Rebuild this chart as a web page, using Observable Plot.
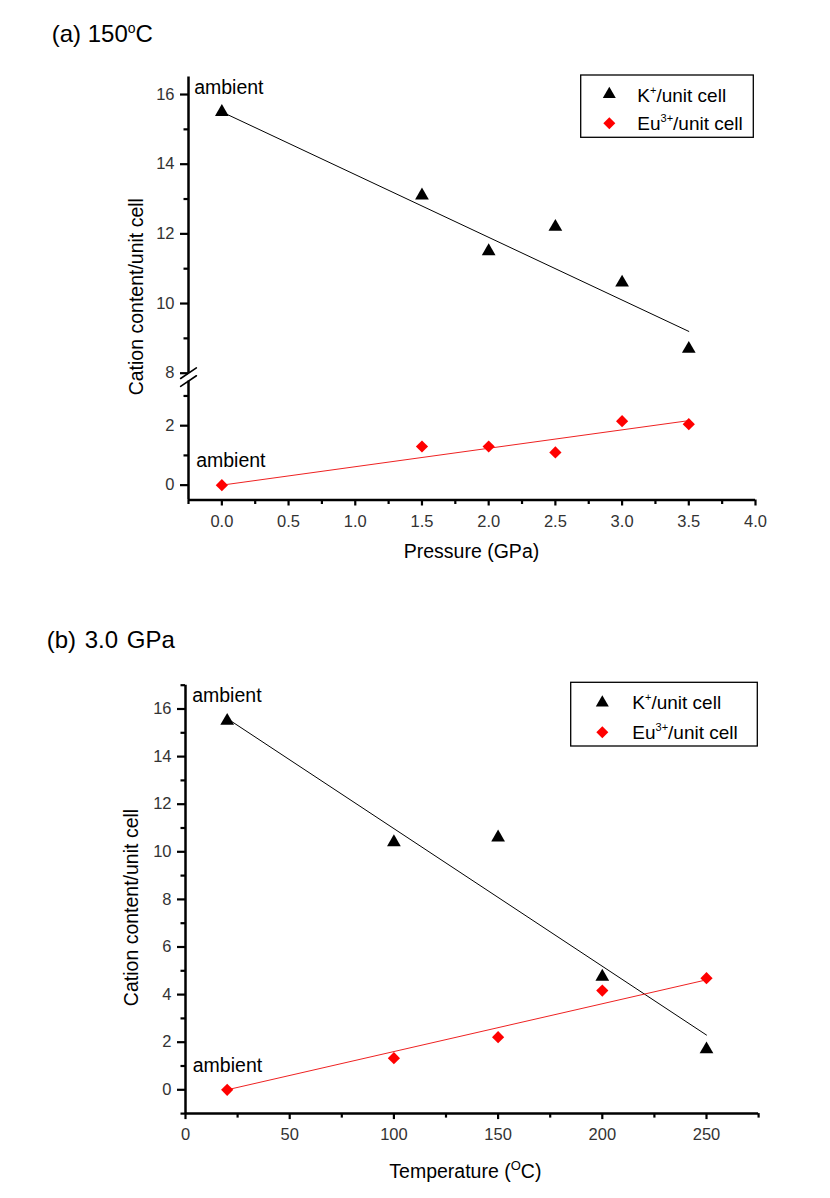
<!DOCTYPE html>
<html><head><meta charset="utf-8">
<script src="https://cdn.jsdelivr.net/npm/d3@7"></script>
<script src="https://cdn.jsdelivr.net/npm/@observablehq/plot@0.6"></script>
<style>
body{margin:0;background:#fff;font-family:"Liberation Sans",Arial,sans-serif;}
#page{position:relative;width:830px;height:1198px;overflow:hidden;background:#fff;}
#page > svg{position:absolute;left:0;}
#overlay{position:absolute;left:0;top:0;pointer-events:none;}
</style></head><body><div id="page">
<svg id="overlay" width="830" height="1198" font-family="Liberation Sans, Arial, sans-serif">
  <!-- titles -->
  <text x="51.7" y="41.7" font-size="24">(a) 150<tspan dy="-9" font-size="14">o</tspan><tspan dy="9">C</tspan></text>
  <text x="46.7" y="648.3" font-size="24" word-spacing="2">(b) 3.0 GPa</text>
  <!-- axis titles -->
  <text x="471.5" y="558.3" font-size="19.5" text-anchor="middle">Pressure (GPa)</text>
  <text transform="translate(143.3,296.7) rotate(-90)" font-size="19.5" text-anchor="middle">Cation content/unit cell</text>
  <text x="389.3" y="1178.3" font-size="19.5">Temperature (<tspan dy="-8" font-size="13">O</tspan><tspan dy="8">C)</tspan></text>
  <text transform="translate(138.3,907.5) rotate(-90)" font-size="19.5" text-anchor="middle">Cation content/unit cell</text>
  <!-- legend (a) -->
  <rect x="580.7" y="75" width="172.6" height="62.3" fill="none" stroke="black" stroke-width="1.3"/>
  <path d="M609.3,86.8 L615.8,98.1 L602.8,98.1 Z" fill="black"/>
  <path d="M609.3,117.3 L615.3,123.3 L609.3,129.3 L603.3,123.3 Z" fill="#ff0000"/>
  <text x="637.3" y="101.5" font-size="19">K<tspan dy="-8" font-size="11">+</tspan><tspan dy="8">/unit cell</tspan></text>
  <text x="637.3" y="130" font-size="19">Eu<tspan dy="-8" font-size="11">3+</tspan><tspan dy="8">/unit cell</tspan></text>
  <!-- legend (b) -->
  <rect x="570.7" y="682.3" width="186.6" height="63.7" fill="none" stroke="black" stroke-width="1.3"/>
  <path d="M602.3,695.2 L608.8,706.5 L595.8,706.5 Z" fill="black"/>
  <path d="M602.3,726.3 L608.3,732.3 L602.3,738.3 L596.3,732.3 Z" fill="#ff0000"/>
  <text x="632.3" y="709" font-size="19">K<tspan dy="-8" font-size="11">+</tspan><tspan dy="8">/unit cell</tspan></text>
  <text x="632.3" y="739" font-size="19">Eu<tspan dy="-8" font-size="11">3+</tspan><tspan dy="8">/unit cell</tspan></text>
</svg>
</div>
<script>
// ---------- Panel (a): 150 °C, varying pressure ----------
const pressure = [0, 1.5, 2.0, 2.5, 3.0, 3.5];
const kPerCellA = [15.5, 13.1, 11.5, 12.2, 10.6, 8.7];
const euPerCellA = [0, 1.3, 1.3, 1.1, 2.15, 2.05];
const kFitPressure = [0, 3.5];
const kFitA = [15.5, 9.2];
const euFitPressure = [0, 3.5];
const euFitA = [0, 2.17];
const xTicksA = [0, 0.5, 1.0, 1.5, 2.0, 2.5, 3.0, 3.5, 4.0];
const xMinorA = [-0.25, 0.25, 0.75, 1.25, 1.75, 2.25, 2.75, 3.25, 3.75];
const xDomainA = [-0.25, 4.0];
// broken y axis: upper part 8…16.5, lower part −0.5…3.5
const yUpperA = [8, 16.5];
const yLowerA = [-0.5, 3.5];
const yTicksUpperA = [8, 10, 12, 14, 16];
const yMinorUpperA = [9, 11, 13, 15];
const yTicksLowerA = [0, 2];
const yMinorLowerA = [1, 3];

// ---------- Panel (b): 3.0 GPa, varying temperature ----------
const temperature = [20, 100, 150, 200, 250];
const kPerCellB = [15.5, 10.4, 10.6, 4.75, 1.7];
const euPerCellB = [0, 1.33, 2.21, 4.17, 4.69];
const kFitTemperature = [20, 250];
const kFitB = [15.6, 2.3];
const euFitTemperature = [20, 250];
const euFitB = [0, 4.62];
const xTicksB = [0, 50, 100, 150, 200, 250];
const xMinorB = [25, 75, 125, 175, 225, 275];
const yTicksB = [0, 2, 4, 6, 8, 10, 12, 14, 16];
const yMinorB = [-1, 1, 3, 5, 7, 9, 11, 13, 15, 17];
const xDomainB = [0, 275];
const yDomainB = [-1, 17];

const ambientLabel = "ambient";

const rows = (xs, ys) => xs.map((x, i) => ({x, y: ys[i]}));
const font = "Liberation Sans, Arial, sans-serif";
const slash = {draw(ctx, l) { ctx.moveTo(0, 0); ctx.lineTo(0, -l); }};
const style = {fontFamily: font, fontSize: "16px", background: "transparent", overflow: "visible"};

const xAxes = (xt, xm, xfmt) => [
  Plot.axisX({ticks: xt, tickSize: 6, tickPadding: 9, tickFormat: xfmt, fontSize: 16.5, fill: "#333", stroke: "black", strokeWidth: 2.2, label: null}),
  Plot.axisX({ticks: xm, tickSize: 4.5, tickPadding: 0, tickFormat: () => "", stroke: "black", strokeWidth: 2.2, label: null})
];
const yAxes = (yt, ym) => [
  Plot.axisY({ticks: yt, tickSize: 8, tickPadding: 6, tickFormat: d3.format("d"), fontSize: 16.5, fill: "#333", stroke: "black", strokeWidth: 2.2, label: null}),
  Plot.axisY({ticks: ym, tickSize: 4.5, tickPadding: 0, tickFormat: () => "", stroke: "black", strokeWidth: 2.2, label: null})
];
const triangle = {symbol: "triangle", r: 5.1, fill: "black"};
const diamond = {symbol: "diamond2", r: 5.5, fill: "#ff0000"};

const kA = rows(pressure, kPerCellA);
const euA = rows(pressure, euPerCellA);

// upper part of panel (a): K+
const plotAUpper = Plot.plot({
  width: 830, height: 330,
  marginLeft: 188, marginRight: 75, marginTop: 16.6, marginBottom: 17.3,
  style,
  x: {domain: xDomainA, axis: null},
  y: {domain: yUpperA},
  marks: [
    ...yAxes(yTicksUpperA, yMinorUpperA),
    Plot.ruleX([xDomainA[0]], {y1: yUpperA[0], y2: yUpperA[1], stroke: "black", strokeWidth: 2.5}),
    Plot.vector([yUpperA[0]], {x: () => xDomainA[0], y: d => d, length: 19, rotate: 56, anchor: "middle", shape: slash, stroke: "black", strokeWidth: 1.6}),
    Plot.line(rows(kFitPressure, kFitA), {x: "x", y: "y", stroke: "black", strokeWidth: 1}),
    Plot.dot(kA, {x: "x", y: "y", ...triangle}),
    Plot.text([kA[0]], {x: "x", y: "y", text: () => ambientLabel, textAnchor: "start", dx: -27.7, dy: -24, fontSize: 19.5, fill: "black"})
  ]
});
plotAUpper.style.top = "60px";

// lower part of panel (a): Eu3+
const plotALower = Plot.plot({
  width: 830, height: 200,
  marginLeft: 188, marginRight: 75, marginTop: 10.6, marginBottom: 70.5,
  style,
  x: {domain: xDomainA},
  y: {domain: yLowerA},
  marks: [
    ...xAxes(xTicksA, xMinorA, d3.format(".1f")),
    ...yAxes(yTicksLowerA, yMinorLowerA),
    Plot.ruleY([yLowerA[0]], {x1: xDomainA[0], x2: xDomainA[1], stroke: "black", strokeWidth: 2.5}),
    Plot.ruleX([xDomainA[0]], {y1: yLowerA[0], y2: yLowerA[1], stroke: "black", strokeWidth: 2.5}),
    Plot.vector([yLowerA[1]], {x: () => xDomainA[0], y: d => d, length: 19, rotate: 56, anchor: "middle", shape: slash, stroke: "black", strokeWidth: 1.6}),
    Plot.line(rows(euFitPressure, euFitA), {x: "x", y: "y", stroke: "#ee2222", strokeWidth: 1}),
    Plot.dot(euA, {x: "x", y: "y", ...diamond}),
    Plot.text([euA[0]], {x: "x", y: "y", text: () => ambientLabel, textAnchor: "start", dx: -25.7, dy: -24.2, fontSize: 19.5, fill: "black"})
  ]
});
plotALower.style.top = "370px";

const kB = rows(temperature, kPerCellB);
const euB = rows(temperature, euPerCellB);
const plotB = Plot.plot({
  width: 830, height: 528,
  marginLeft: 185, marginRight: 71.9, marginTop: 14.7, marginBottom: 84.9,
  style,
  x: {domain: xDomainB},
  y: {domain: yDomainB},
  marks: [
    ...xAxes(xTicksB, xMinorB, d3.format("d")),
    ...yAxes(yTicksB, yMinorB),
    Plot.ruleY([yDomainB[0]], {x1: xDomainB[0], x2: xDomainB[1], stroke: "black", strokeWidth: 2.5}),
    Plot.ruleX([xDomainB[0]], {y1: yDomainB[0], y2: yDomainB[1], stroke: "black", strokeWidth: 2.5}),
    Plot.line(rows(kFitTemperature, kFitB), {x: "x", y: "y", stroke: "black", strokeWidth: 1}),
    Plot.line(rows(euFitTemperature, euFitB), {x: "x", y: "y", stroke: "#ee2222", strokeWidth: 1}),
    Plot.dot(kB, {x: "x", y: "y", ...triangle}),
    Plot.dot(euB, {x: "x", y: "y", ...diamond}),
    Plot.text([kB[0]], {x: "x", y: "y", text: () => ambientLabel, textAnchor: "start", dx: -35, dy: -25, fontSize: 19.5, fill: "black"}),
    Plot.text([euB[0]], {x: "x", y: "y", text: () => ambientLabel, textAnchor: "start", dx: -34.4, dy: -24, fontSize: 19.5, fill: "black"})
  ]
});
plotB.style.top = "670px";

const page = document.getElementById("page");
const overlay = document.getElementById("overlay");
page.insertBefore(plotAUpper, overlay);
page.insertBefore(plotALower, overlay);
page.insertBefore(plotB, overlay);
</script>
</body></html>
